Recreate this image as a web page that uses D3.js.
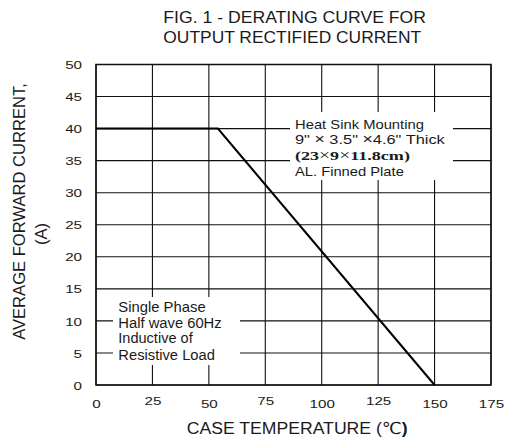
<!DOCTYPE html>
<html><head><meta charset="utf-8">
<script src="https://cdn.jsdelivr.net/npm/d3@7"></script>
<style>
body{margin:0;background:#fff}
svg{display:block}
text{font-family:"Liberation Sans",Arial,sans-serif;fill:#1a1a1a}
</style></head>
<body>
<script>
const xTicks = [0,25,50,75,100,125,150,175];
const yTicks = [0,5,10,15,20,25,30,35,40,45,50];
const curveTemp = [0,54,150];
const curveCurrent = [40,40,0];
const titleLines = ["FIG. 1 - DERATING CURVE FOR","OUTPUT RECTIFIED CURRENT"];
const xTitle = "CASE TEMPERATURE (";
const yTitle = ["AVERAGE FORWARD CURRENT,","(A)"];
const heatNote = ["Heat Sink Mounting","9\" ×  3.5\" ×4.6\"  Thick","(23×9×11.8cm)","AL. Finned Plate"];
const phaseNote = ["Single Phase","Half wave 60Hz","Inductive of","Resistive Load"];

const W=507,H=438;
const L=96,R=491,T=64.5,B=385;
const svg=d3.select("body").append("svg").attr("width",W).attr("height",H);
const x=d3.scaleLinear([0,175],[L,R]);
const y=d3.scaleLinear([0,50],[B,T]);

function addText(px,py,str,size,target,anchor,rot,opts){
  const g=svg.append("g");
  const t=g.append("text").attr("font-size",size).attr("text-anchor",anchor||"start");
  if(opts&&opts.family) t.style("font-family",opts.family);
  if(opts&&opts.weight) t.attr("font-weight",opts.weight);
  if(opts&&opts.build) opts.build(t); else t.text(str);
  const s=target?target/t.node().getComputedTextLength():1;
  g.attr("transform",`translate(${px},${py})${rot?` rotate(${rot})`:""} scale(${s},1)`);
  return g;
}

// grid
const grid=svg.append("g").attr("stroke","#111").attr("stroke-width",1.1);
grid.selectAll(".v").data(xTicks).join("line")
  .attr("x1",d=>x(d)).attr("x2",d=>x(d)).attr("y1",T).attr("y2",B);
grid.selectAll(".h").data(yTicks).join("line")
  .attr("y1",d=>y(d)).attr("y2",d=>y(d)).attr("x1",L).attr("x2",R);

// note boxes (white)
svg.append("rect").attr("x",290).attr("y",112).attr("width",163).attr("height",68).attr("fill","#fff");
svg.append("rect").attr("x",113).attr("y",297).attr("width",127).attr("height",68).attr("fill","#fff");

// border
svg.append("rect").attr("x",L).attr("y",T).attr("width",R-L).attr("height",B-T)
  .attr("fill","none").attr("stroke","#111").attr("stroke-width",1.5);

// axis tick labels
const xa=svg.append("g").attr("transform",`translate(0,${B})`)
  .call(d3.axisBottom(x).tickValues(xTicks).tickSize(0).tickPadding(0).tickFormat(d3.format("d")));
xa.select(".domain").remove();
xa.selectAll(".tick text").attr("font-size",11.5).attr("fill","#1a1a1a").attr("dy",null)
  .attr("y",(d,i)=>i%2===1&&i<7?20.5:23)
  .style("font-family","'Liberation Sans',Arial,sans-serif")
  .attr("transform","scale(1.32,1)");
const ya=svg.append("g").attr("transform",`translate(82,0)`)
  .call(d3.axisLeft(y).tickValues(yTicks).tickSize(0).tickPadding(0).tickFormat(d3.format("d")));
ya.select(".domain").remove();
ya.selectAll(".tick text").attr("font-size",11.5).attr("fill","#1a1a1a").attr("x",0).attr("dy","0.36em")
  .style("font-family","'Liberation Sans',Arial,sans-serif")
  .attr("transform","scale(1.32,1)");

// curve
const pts=curveTemp.map((t,i)=>[t,curveCurrent[i]]);
svg.append("path").datum(pts)
  .attr("d",d3.line().x(d=>x(d[0])).y(d=>y(d[1])))
  .attr("fill","none").attr("stroke","#000").attr("stroke-width",2);

// title
addText(163.3,22.7,titleLines[0],16.5,263);
addText(163.3,42.7,titleLines[1],16.5,258);

// x title
addText(186.7,433.8,null,16.5,221,"start",0,{build:t=>{
  t.append("tspan").text(xTitle);
  t.append("tspan").style("font-family","'DejaVu Sans'").text("℃");
  t.append("tspan").attr("font-weight","bold").text(")");
}});

// y title
addText(25,211.5,yTitle[0],16.5,257,"middle",-90);
addText(47,234,yTitle[1],16.5,null,"middle",-90);

// heat sink note
addText(295,128.7,heatNote[0],13,129);
addText(295,144.3,null,13,150,"start",0,{build:t=>{
  heatNote[1].split(/(×)/).forEach(p=>{
    const s=t.append("tspan").text(p);
    if(p==="×") s.attr("font-size",14);
  });
}});
addText(295,160.3,null,13,115,"start",0,{weight:"bold",family:"'Liberation Serif','Times New Roman',serif",build:t=>{
  heatNote[2].split(/(×)/).forEach(p=>{
    const s=t.append("tspan").text(p);
    if(p==="×") s.attr("font-weight","normal").attr("font-size",14);
  });
}});
addText(295,175.7,heatNote[3],13,109);

// single phase note
const phaseW=[87.4,103.4,74.4,96.7];
const phaseY=[312.3,327.8,343.3,360];
phaseNote.forEach((s,i)=>addText(118.3,phaseY[i],s,13.8,phaseW[i]));
</script>
</body></html>
